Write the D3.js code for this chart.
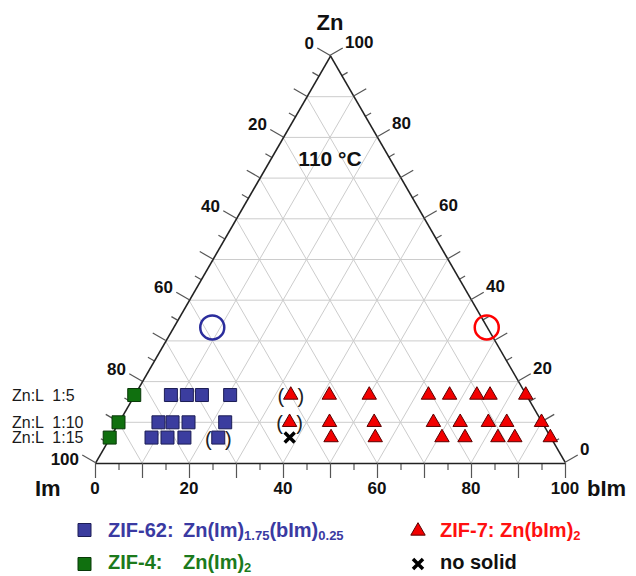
<!DOCTYPE html>
<html>
<head>
<meta charset="utf-8">
<script src="https://cdn.jsdelivr.net/npm/d3@7"></script>
<style>
body { margin: 0; background: #fff; }
text { font-family: "Liberation Sans", Arial, sans-serif; }
</style>
</head>
<body>
<script>
// compositions are [Zn, bIm] in mol %, Im = 100 - Zn - bIm
var ratioLabels = ["Zn:L  1:5", "Zn:L  1:10", "Zn:L  1:15"];
var ratioZn = [16.7, 10, 6.25];

var zif4 = [[16.7, 0], [10, 0], [6.25, 0]];
var zif62 = [[16.7, 7.8], [16.7, 11.2], [16.7, 14.4], [16.7, 20.4],
             [10, 8.5], [10, 11.5], [10, 14.9], [10, 22.7],
             [6.25, 8.9], [6.25, 12.3], [6.25, 15.9]];
var zif62Weak = [[6.25, 23.1]];
var zif7 = [[16.7, 41.5], [16.7, 50], [16.7, 62.6], [16.7, 67.1], [16.7, 72.9], [16.7, 75.7], [16.7, 83.3],
            [10, 44.9], [10, 54.4], [10, 67], [10, 72.7], [10, 78.7], [10, 82.6], [10, 90],
            [6.25, 47.1], [6.25, 56.5], [6.25, 70.7], [6.25, 75.6], [6.25, 82.6], [6.25, 86.2], [6.25, 93.75]];
var zif7Weak = [[16.7, 33.3], [10, 36.4]];
var noSolid = [[6.25, 38.3]];
// ideal compositions of ZIF-62 and ZIF-7
var targets = [[33.3, 8.3], [33.3, 66.7]];
var targetColors = ["#2b2d9c", "#ff0000"];

var axisTicks = [0, 20, 40, 60, 80, 100];

var colors = {
  zif62: "#3b3d9f",
  zif4: "#10700f",
  zif7: "#f20000"
};

var svg = d3.select('body').append('svg')
  .attr('width', 636)
  .attr('height', 576);

var xs = d3.scaleLinear().domain([0, 100]).range([95, 565]);
var ys = d3.scaleLinear().domain([0, 100]).range([463, 56]);
var es = d3.scaleLinear().domain([0, 100]).range([0, 470]);

var pt = function(zn, bim) { return [xs(bim + zn / 2), ys(zn)]; };

// grid
var gridLines = [];
d3.range(10, 100, 10).forEach(function(v) {
  gridLines.push([pt(v, 0), pt(v, 100 - v)]);
  gridLines.push([pt(0, v), pt(100 - v, v)]);
  gridLines.push([pt(0, 100 - v), pt(100 - v, 0)]);
});
svg.append('g').selectAll('line').data(gridLines).enter().append('line')
  .attr('x1', function(d) { return d[0][0]; })
  .attr('y1', function(d) { return d[0][1]; })
  .attr('x2', function(d) { return d[1][0]; })
  .attr('y2', function(d) { return d[1][1]; })
  .style('stroke', '#cccccc')
  .style('stroke-width', 1);

// axes along the three edges
var styleAxis = function(g, domain) {
  g.selectAll('.tick line').style('stroke', '#555').style('stroke-width', 1.2);
  g.selectAll('.tick text').remove();
  if (domain) g.select('.domain').style('stroke', '#222').style('stroke-width', 1.6);
  else g.select('.domain').remove();
};
var major = d3.range(0, 101, 10), minor = d3.range(5, 100, 10);

var edges = [
  { t: 'translate(95,463)', s: es.copy(), make: d3.axisBottom },
  { t: 'translate(95,463) rotate(-60)', s: es.copy().domain([100, 0]), make: d3.axisTop },
  { t: 'translate(565,463) rotate(-120)', s: es.copy(), make: d3.axisBottom }
];
edges.forEach(function(e) {
  svg.append('g').attr('transform', e.t)
    .call(e.make(e.s).tickValues(minor).tickSize(7).tickSizeOuter(0))
    .call(styleAxis, false);
  svg.append('g').attr('transform', e.t)
    .call(e.make(e.s).tickValues(major).tickSize(15).tickSizeOuter(0))
    .call(styleAxis, true);
});

// tick labels
var tickFont = function(sel) {
  sel.style('font-size', '17px').style('font-weight', 'bold').style('fill', '#111');
};
svg.append('g').selectAll('text').data(axisTicks).enter().append('text')
  .attr('x', function(d) { return pt(100 - d, 0)[0] - 13 - 3; })
  .attr('y', function(d) { return pt(100 - d, 0)[1] - 7.5 - (d === 100 ? -4 : 5); })
  .attr('text-anchor', 'end')
  .attr('dominant-baseline', 'central')
  .text(function(d) { return d; })
  .call(tickFont);
svg.append('g').selectAll('text').data(axisTicks).enter().append('text')
  .attr('x', function(d) { return pt(d, 100 - d)[0] + 13 + 2; })
  .attr('y', function(d) { return pt(d, 100 - d)[1] - 7.5 - 6; })
  .attr('text-anchor', 'start')
  .attr('dominant-baseline', 'central')
  .text(function(d) { return d; })
  .call(tickFont);
svg.append('g').selectAll('text').data(axisTicks).enter().append('text')
  .attr('x', function(d) { return pt(0, d)[0]; })
  .attr('y', 494)
  .attr('text-anchor', 'middle')
  .text(function(d) { return d; })
  .call(tickFont);

// axis titles
var title = function(txt, x, y, anchor) {
  svg.append('text').attr('x', x).attr('y', y).attr('text-anchor', anchor)
    .style('font-size', '22px').style('font-weight', 'bold').style('fill', '#111')
    .text(txt);
};
title('Zn', 330, 30, 'middle');
title('Im', 35, 496, 'start');
title('bIm', 587, 496, 'start');

svg.append('text').attr('x', 330).attr('y', 166).attr('text-anchor', 'middle')
  .style('font-size', '21px').style('font-weight', 'bold').style('fill', '#111')
  .text('110 °C');

// ratio row labels
svg.append('g').selectAll('text').data(ratioLabels).enter().append('text')
  .attr('x', 12)
  .attr('y', function(d, i) { return ys(ratioZn[i]); })
  .attr('dominant-baseline', 'central')
  .style('white-space', 'pre')
  .style('font-size', '16px')
  .style('fill', '#1a1a1a')
  .text(function(d) { return d; });

// target compositions
svg.append('g').selectAll('circle').data(targets).enter().append('circle')
  .attr('cx', function(d) { return pt(d[0], d[1])[0]; })
  .attr('cy', function(d) { return pt(d[0], d[1])[1]; })
  .attr('r', 12)
  .style('fill', 'none')
  .style('stroke', function(d, i) { return targetColors[i]; })
  .style('stroke-width', 2.5);

// markers
var square = d3.symbol().type(d3.symbolSquare).size(169);
var tri = d3.symbol().type(d3.symbolTriangle).size(90);
var cross = 'M-5,-5L5,5M-5,5L5,-5';

var drawPoints = function(data, path, fill, stroke) {
  svg.append('g').selectAll('path').data(data).enter().append('path')
    .attr('transform', function(d) { var p = pt(d[0], d[1]); return 'translate(' + p[0] + ',' + p[1] + ')'; })
    .attr('d', path)
    .style('fill', fill)
    .style('stroke', stroke)
    .style('stroke-width', 1);
};
var parens = function(data) {
  var g = svg.append('g').selectAll('g').data(data).enter().append('g')
    .attr('transform', function(d) { var p = pt(d[0], d[1]); return 'translate(' + p[0] + ',' + p[1] + ')'; });
  g.append('text').attr('x', -10).attr('y', 1).text('(');
  g.append('text').attr('x', 10).attr('y', 1).text(')');
  g.selectAll('text').attr('text-anchor', 'middle').attr('dominant-baseline', 'central')
    .style('font-size', '20px').style('fill', '#222');
};

parens(zif7Weak.concat(zif62Weak));
drawPoints(zif4, square(), colors.zif4, '#083808');
drawPoints(zif62.concat(zif62Weak), square(), colors.zif62, '#1c1d55');
drawPoints(zif7.concat(zif7Weak), tri(), colors.zif7, '#5a0000');
svg.append('g').selectAll('path').data(noSolid).enter().append('path')
  .attr('transform', function(d) { var p = pt(d[0], d[1]); return 'translate(' + p[0] + ',' + p[1] + ')'; })
  .attr('d', cross)
  .style('stroke', '#000')
  .style('stroke-width', 3.5);

// legend
var legend = svg.append('g');
var leg = function(x, y, shape, fill, stroke) {
  var p = legend.append('path').attr('transform', 'translate(' + x + ',' + y + ')').attr('d', shape);
  if (fill) p.style('fill', fill).style('stroke', stroke).style('stroke-width', 1);
  else p.style('fill', 'none').style('stroke', stroke).style('stroke-width', 3.5);
};
var legText = function(x, y, color, parts) {
  var t = legend.append('text').attr('x', x).attr('y', y)
    .style('font-size', '20px').style('font-weight', 'bold').style('fill', color);
  parts.forEach(function(p) {
    var s = t.append('tspan').text(p[0]);
    if (p[1] === 'sub') s.style('font-size', '13px').attr('dy', 3);
    if (p[1] === 'up') s.attr('dy', -3);
    if (typeof p[1] === 'number') s.attr('x', p[1]);
  });
};
leg(84.5, 530, square(), colors.zif62, '#1c1d55');
legText(108, 537, '#3a3aa2', [['ZIF-62:'], ['Zn(Im)', 183], ['1.75', 'sub'], ['(bIm)', 'up'], ['0.25', 'sub']]);
leg(84.5, 564, square(), colors.zif4, '#083808');
legText(108, 569, '#1c7a1c', [['ZIF-4:'], ['Zn(Im)', 183], ['2', 'sub']]);
leg(418, 531, tri(), colors.zif7, '#5a0000');
legText(440, 537, '#ff1010', [['ZIF-7: Zn(bIm)'], ['2', 'sub']]);
leg(418, 564, cross, null, '#000');
legText(440, 569, '#111', [['no solid']]);
</script>
</body>
</html>
